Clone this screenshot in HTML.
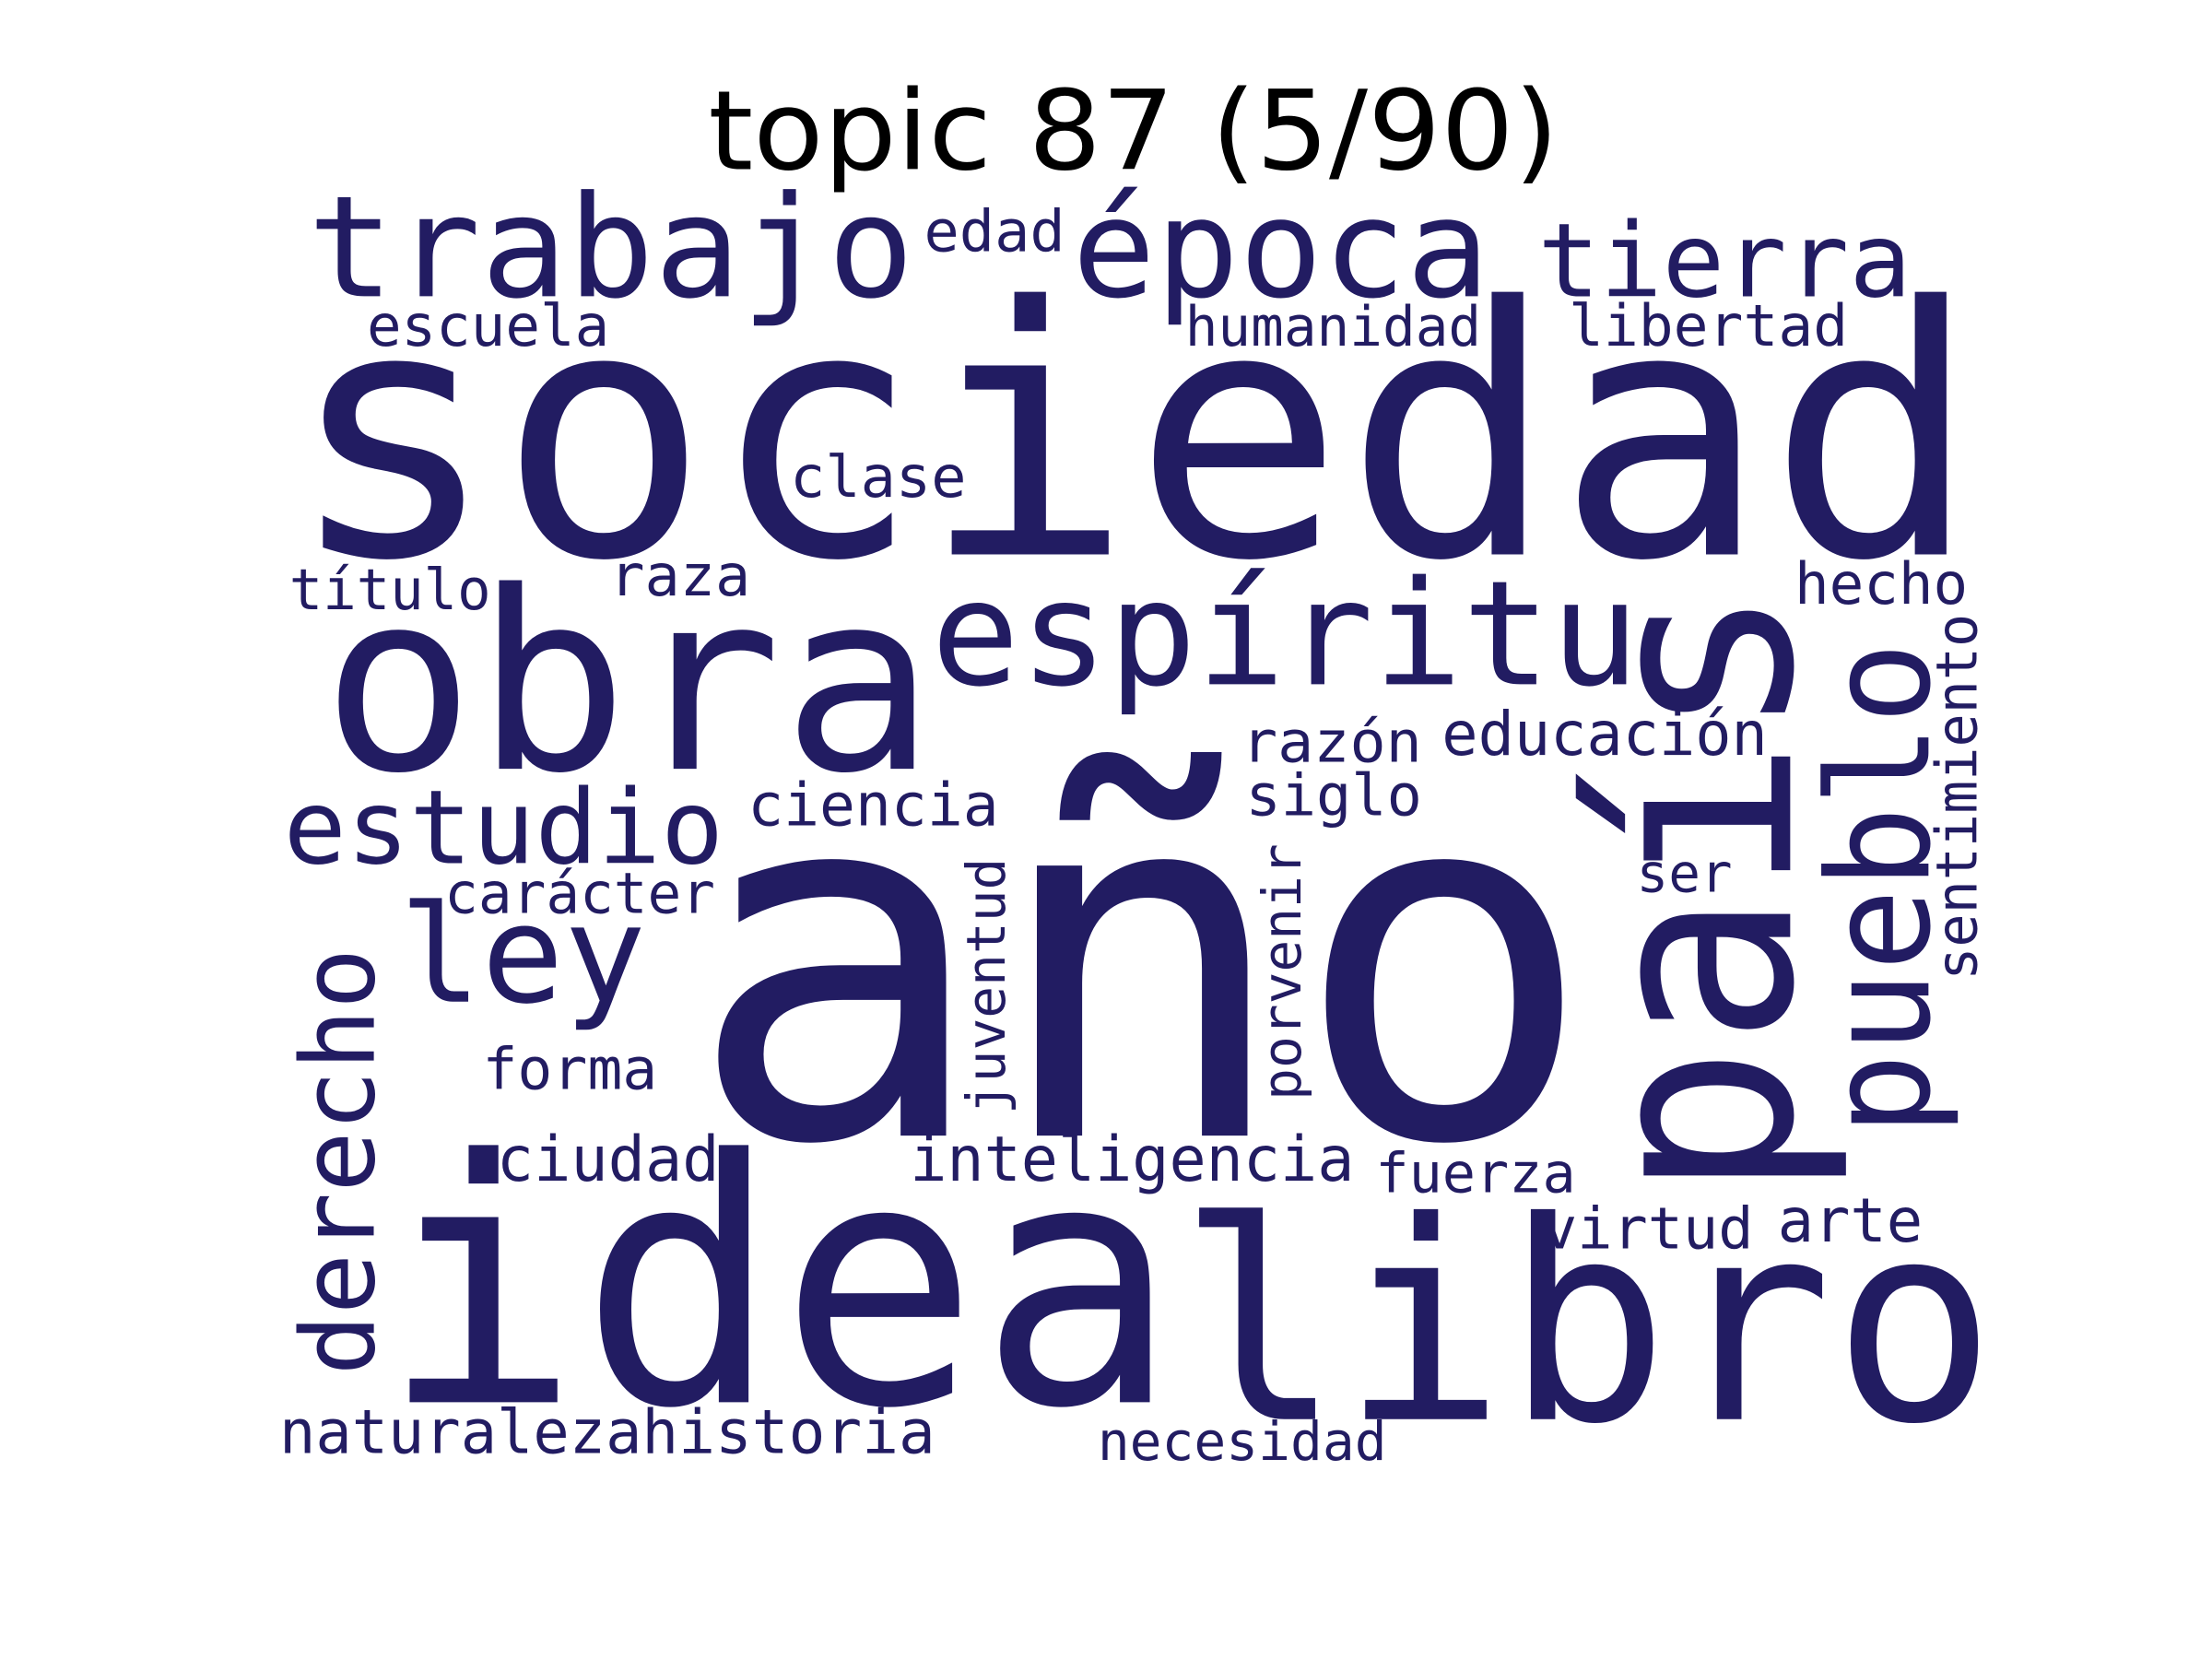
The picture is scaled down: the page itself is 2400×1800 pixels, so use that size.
<!DOCTYPE html>
<html><head><meta charset="utf-8"><style>
html,body{margin:0;padding:0;background:#fff;}
svg{display:block;}
.w{font-family:"DejaVu Sans Mono","Liberation Mono",monospace;fill:#221c62;}
</style></head><body>
<svg width="2400" height="1800" viewBox="0 0 1568 1176" xmlns="http://www.w3.org/2000/svg">
<rect width="1568" height="1176" fill="#fff"/>
<text x="502" y="120" font-family="DejaVu Sans, Liberation Sans, sans-serif" font-size="78" textLength="603" lengthAdjust="spacingAndGlyphs" fill="#000">topic 87 (5/90)</text>
<g id="words"></g>
</svg>
<script>
const words=["trabajo","edad","época","tierra","escuela","humanidad","libertad","sociedad","clase","título","raza","hecho","obra","espíritu","razón","educación","siglo","estudio","ciencia","carácter","ser","ley","forma","ciudad","inteligencia","fuerza","virtud","arte","idea","libro","naturaleza","historia","necesidad","año","país","pueblo","sentimiento","juventud","porvenir","derecho"];
const sizes=[100,41,97,73,41,39,41,245,41,40,41,41,176,103,41,43,41,73,42,40,38,96,41,44,44,39,41,43,240,196,43,43,38,350,190,100,40,38,38,72];
// layout: x, baseline y, text length, vertical flag (for vertical: x = baseline x, y = bottom end)
const layoutX=[218,655,760,1090,260,840,1112,203,560,205,432,1272,228,660,880,1022,883,201,530,315,1160,283,342,352,645,975,1093,1260,270,835,198,455,778,486,1269,1367,1401,712,922,265];
const layoutY=[210,178,210,210,245,245,245,393,352,432,422,428,545,485,540,535,578,612,585,647,632,710,772,837,837,845,885,880,994,1006,1030,1030,1035,805,850,805,695,790,780,975];
const layoutL=[430,100,296,265,172,210,198,1200,125,143,100,123,435,502,128,231,125,312,178,192,68,175,124,158,315,142,150,103,565,580,257,208,205,645,435,350,260,182,182,303];
const vertical=[0,0,0,0,0,0,0,0,0,0,0,0,0,0,0,0,0,0,0,0,0,0,0,0,0,0,0,0,0,0,0,0,0,0,1,1,1,1,1,1];
const g=document.getElementById('words');
const NS="http://www.w3.org/2000/svg";
words.forEach((w,i)=>{
  const t=document.createElementNS(NS,'text');
  t.setAttribute('class','w');
  t.setAttribute('font-size',sizes[i]);
  if(layoutL[i]>0){t.setAttribute('textLength',layoutL[i]);t.setAttribute('lengthAdjust','spacingAndGlyphs');}
  if(vertical[i]){
    t.setAttribute('x',0);t.setAttribute('y',0);
    t.setAttribute('transform','translate('+layoutX[i]+','+layoutY[i]+') rotate(-90)');
  } else {
    t.setAttribute('x',layoutX[i]);t.setAttribute('y',layoutY[i]);
  }
  t.textContent=w;
  
  
  g.appendChild(t);
});
</script>
</body></html>
